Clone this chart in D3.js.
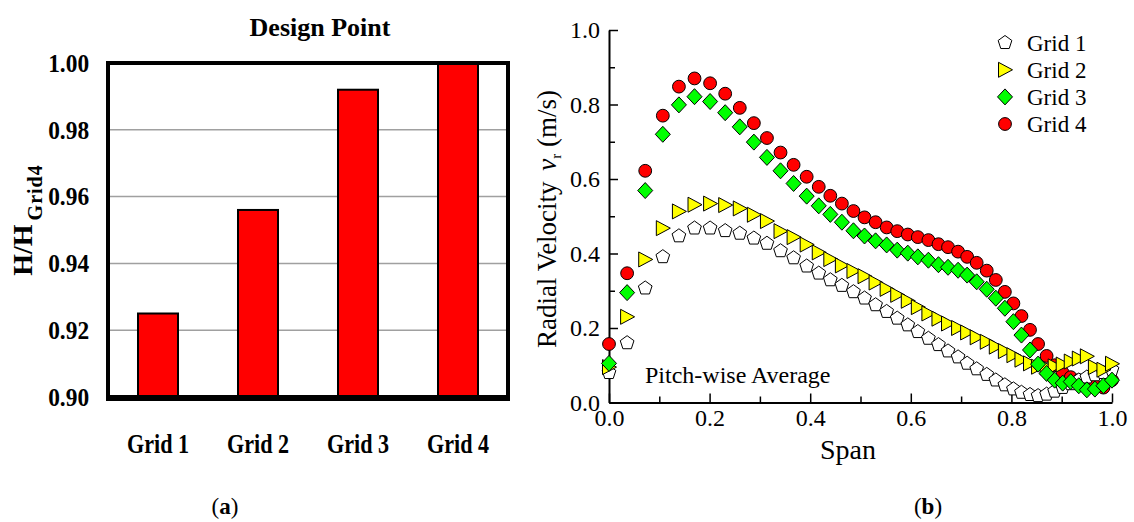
<!DOCTYPE html>
<html><head><meta charset="utf-8">
<script src="https://cdn.jsdelivr.net/npm/d3@7"></script>
<style>body{margin:0;background:#fff;} svg{display:block;}</style>
</head><body>
<svg id="c" width="1134" height="522"></svg>
<script>
// ---------- data (a) ----------
const barCategories = ["Grid 1", "Grid 2", "Grid 3", "Grid 4"];
const barValues = [0.925, 0.956, 0.992, 1.000];
const barTicks = [0.90, 0.92, 0.94, 0.96, 0.98, 1.00];

// ---------- data (b) ----------
const span = [0, 0.036, 0.072, 0.107, 0.139, 0.170, 0.201, 0.231, 0.260, 0.288, 0.314, 0.341, 0.367, 0.393, 0.417, 0.440, 0.463, 0.486, 0.508, 0.530, 0.552, 0.573, 0.594, 0.614, 0.635, 0.655, 0.674, 0.694, 0.712, 0.731, 0.751, 0.769, 0.787, 0.804, 0.820, 0.837, 0.853, 0.870, 0.886, 0.902, 0.918, 0.934, 0.950, 0.966, 0.983, 1.000];
const grid1 = [0.080, 0.160, 0.307, 0.391, 0.447, 0.468, 0.468, 0.461, 0.454, 0.441, 0.427, 0.407, 0.388, 0.366, 0.347, 0.329, 0.314, 0.297, 0.280, 0.262, 0.244, 0.226, 0.208, 0.190, 0.172, 0.155, 0.138, 0.122, 0.105, 0.090, 0.075, 0.060, 0.047, 0.036, 0.027, 0.021, 0.018, 0.022, 0.030, 0.040, 0.050, 0.060, 0.068, 0.074, 0.080, 0.088];
const grid2 = [0.095, 0.230, 0.384, 0.468, 0.513, 0.531, 0.534, 0.530, 0.521, 0.504, 0.487, 0.460, 0.444, 0.424, 0.403, 0.385, 0.368, 0.353, 0.339, 0.322, 0.305, 0.289, 0.273, 0.256, 0.239, 0.225, 0.212, 0.200, 0.188, 0.175, 0.163, 0.150, 0.138, 0.127, 0.115, 0.105, 0.096, 0.094, 0.097, 0.102, 0.110, 0.118, 0.124, 0.095, 0.088, 0.104];
const grid3 = [0.105, 0.295, 0.569, 0.720, 0.799, 0.821, 0.808, 0.778, 0.740, 0.699, 0.658, 0.622, 0.588, 0.554, 0.528, 0.505, 0.484, 0.461, 0.447, 0.434, 0.423, 0.409, 0.401, 0.391, 0.382, 0.370, 0.363, 0.355, 0.342, 0.324, 0.304, 0.280, 0.253, 0.217, 0.181, 0.141, 0.103, 0.078, 0.060, 0.052, 0.056, 0.045, 0.034, 0.036, 0.045, 0.060];
const grid4 = [0.157, 0.347, 0.622, 0.770, 0.848, 0.870, 0.857, 0.829, 0.791, 0.750, 0.710, 0.671, 0.638, 0.606, 0.579, 0.555, 0.534, 0.514, 0.497, 0.484, 0.470, 0.460, 0.451, 0.444, 0.436, 0.425, 0.417, 0.405, 0.391, 0.375, 0.354, 0.329, 0.297, 0.266, 0.232, 0.195, 0.157, 0.125, 0.100, 0.080, 0.068, 0.060, 0.052, 0.045, 0.040, 0.060];
const seriesNames = ["Grid 1", "Grid 2", "Grid 3", "Grid 4"];
const spanTicks = [0, 0.2, 0.4, 0.6, 0.8, 1.0];
const spanMinor = [0.1, 0.3, 0.5, 0.7, 0.9];
const velTicks = [0, 0.2, 0.4, 0.6, 0.8, 1.0];
const velMinor = [0.1, 0.3, 0.5, 0.7, 0.9];

const svg = d3.select("#c");
const SERIF = "'Liberation Serif','Times New Roman',serif";

// ================= chart (a) =================
const A = {l: 108, r: 508, t: 63, b: 397};
const xa = d3.scaleBand().domain(barCategories).range([A.l, A.r]).paddingInner(0.6).paddingOuter(0.3);
const ya = d3.scaleLinear().domain([0.90, 1.00]).range([A.b, A.t]);
const ga = svg.append("g");

// gridlines
ga.append("g").selectAll("line").data(barTicks.slice(1, -1)).join("line")
  .attr("x1", A.l).attr("x2", A.r).attr("y1", d => ya(d)).attr("y2", d => ya(d))
  .attr("stroke", "#a0a0a0").attr("stroke-width", 1.5);

// bars
ga.append("g").selectAll("rect").data(barValues).join("rect")
  .attr("x", (d, i) => xa(barCategories[i]))
  .attr("y", d => ya(d))
  .attr("width", xa.bandwidth())
  .attr("height", d => ya(0.90) - ya(d))
  .attr("fill", "#ff0000").attr("stroke", "#000").attr("stroke-width", 2);

// frame
ga.append("rect").attr("x", A.l).attr("y", A.t).attr("width", A.r - A.l).attr("height", A.b - A.t)
  .attr("fill", "none").attr("stroke", "#000").attr("stroke-width", 4);
ga.append("line").attr("x1", A.l - 2).attr("x2", A.r + 2).attr("y1", A.b + 1).attr("y2", A.b + 1)
  .attr("stroke", "#000").attr("stroke-width", 6);

// y axis labels
const yAxA = ga.append("g").attr("transform", `translate(${A.l},0)`)
  .call(d3.axisLeft(ya).tickValues(barTicks).tickFormat(d3.format(".2f")).tickSize(0).tickPadding(19));
yAxA.select(".domain").remove();
yAxA.selectAll("text").attr("font-family", SERIF).attr("font-weight", "bold").attr("font-size", 26)
  .attr("fill", "#000").attr("transform", "scale(0.9,1)").attr("x", -21);

// x axis labels
const xAxA = ga.append("g").attr("transform", `translate(0,${A.b})`)
  .call(d3.axisBottom(xa).tickSize(0).tickPadding(37));
xAxA.select(".domain").remove();
xAxA.selectAll("text").attr("font-family", SERIF).attr("font-weight", "bold").attr("font-size", 27)
  .attr("fill", "#000").attr("transform", "scale(0.82,1)");

// title
ga.append("text").attr("x", 320).attr("y", 36).attr("text-anchor", "middle")
  .attr("font-family", SERIF).attr("font-weight", "bold").attr("font-size", 26).text("Design Point");

// y label
const ylA = ga.append("text").attr("transform", "translate(32,220) rotate(-90)").attr("text-anchor", "middle")
  .attr("font-family", SERIF).attr("font-weight", "bold");
ylA.append("tspan").attr("font-size", 28).text("H/H");
ylA.append("tspan").attr("font-size", 20).attr("dy", 10).attr("dx", 4).attr("letter-spacing", 1).text("Grid4");

// (a)
const capA = svg.append("text").attr("x", 225).attr("y", 514).attr("text-anchor", "middle")
  .attr("font-family", SERIF).attr("font-size", 23);
capA.append("tspan").text("(");
capA.append("tspan").attr("font-weight", "bold").text("a");
capA.append("tspan").text(")");

// ================= chart (b) =================
const B = {l: 609, r: 1112, t: 30, b: 402.5};
const xb = d3.scaleLinear().domain([0, 1]).range([B.l, B.r]);
const yb = d3.scaleLinear().domain([0, 1]).range([B.b, B.t]);
const gb = svg.append("g");

function styleAxis(g) {
  g.select(".domain").attr("stroke-width", 2);
  g.selectAll(".tick line").attr("stroke-width", 1.5);
  g.selectAll("text").attr("font-family", SERIF).attr("font-size", 24).attr("fill", "#000");
}
const xMinor = gb.append("g").attr("transform", `translate(0,${B.b})`)
  .call(d3.axisBottom(xb).tickValues(spanMinor).tickSize(-6).tickSizeOuter(0).tickFormat(""));
xMinor.select(".domain").remove();
xMinor.selectAll(".tick line").attr("stroke-width", 1.5);
const yMinor = gb.append("g").attr("transform", `translate(${B.l},0)`)
  .call(d3.axisLeft(yb).tickValues(velMinor).tickSize(-6).tickSizeOuter(0).tickFormat(""));
yMinor.select(".domain").remove();
yMinor.selectAll(".tick line").attr("stroke-width", 1.5);

const xAxB = gb.append("g").attr("transform", `translate(0,${B.b})`)
  .call(d3.axisBottom(xb).tickValues(spanTicks).tickFormat(d3.format(".1f")).tickSize(-9).tickSizeOuter(0).tickPadding(6));
styleAxis(xAxB);
const yAxB = gb.append("g").attr("transform", `translate(${B.l},0)`)
  .call(d3.axisLeft(yb).tickValues(velTicks).tickFormat(d3.format(".1f")).tickSize(-9).tickSizeOuter(0).tickPadding(9));
styleAxis(yAxB);

// marker shapes
function pentagon(r) {
  const pts = d3.range(5).map(k => { const a = -Math.PI / 2 + k * 2 * Math.PI / 5; return [r * Math.cos(a), r * Math.sin(a)]; });
  return "M" + pts.map(p => p.join(",")).join("L") + "Z";
}
const shapes = {
  "Grid 1": {d: pentagon(7.2), fill: "#ffffff"},
  "Grid 2": {d: "M-6.5,-7.5L7.5,0L-6.5,7.5Z", fill: "#ffff00"},
  "Grid 3": {d: "M0,-8L7.5,0L0,8L-7.5,0Z", fill: "#00ff00"},
  "Grid 4": {d: d3.symbol(d3.symbolCircle, Math.PI * 6.4 * 6.4)(), fill: "#ff0000"}
};
const seriesData = {"Grid 1": grid1, "Grid 2": grid2, "Grid 3": grid3, "Grid 4": grid4};
const drawOrder = ["Grid 4", "Grid 1", "Grid 2", "Grid 3"];

const pts = gb.append("g");
drawOrder.forEach(name => {
  const vals = seriesData[name];
  pts.append("g").selectAll("path").data(vals).join("path")
    .attr("transform", (d, i) => `translate(${xb(span[i])},${yb(d)})`)
    .attr("d", shapes[name].d)
    .attr("fill", shapes[name].fill).attr("stroke", "#000").attr("stroke-width", 1);
});

// legend
const leg = gb.append("g");
seriesNames.forEach((name, i) => {
  const y = 42.7 + i * 27.1;
  leg.append("path").attr("transform", `translate(1005,${y})`).attr("d", shapes[name].d)
    .attr("fill", shapes[name].fill).attr("stroke", "#000").attr("stroke-width", 1);
  leg.append("text").attr("x", 1027).attr("y", y).attr("dy", "0.35em")
    .attr("font-family", SERIF).attr("font-size", 23).text(name);
});

// annotation
gb.append("text").attr("x", 645).attr("y", 383).attr("font-family", SERIF).attr("font-size", 24).text("Pitch-wise Average");

// axis titles
gb.append("text").attr("x", 848).attr("y", 459).attr("text-anchor", "middle")
  .attr("font-family", SERIF).attr("font-size", 28).text("Span");
const ylB = gb.append("text").attr("transform", "translate(556,219) rotate(-90)").attr("text-anchor", "middle")
  .attr("font-family", SERIF).attr("font-size", 27);
ylB.append("tspan").text("Radial Velocity ");
ylB.append("tspan").attr("font-style", "italic").attr("dx", 4).text("v");
ylB.append("tspan").attr("font-size", 15).attr("dy", 5).text("r");
ylB.append("tspan").attr("dy", -5).text(" (m/s)");

// (b)
const capB = svg.append("text").attr("x", 928).attr("y", 514).attr("text-anchor", "middle")
  .attr("font-family", SERIF).attr("font-size", 23);
capB.append("tspan").text("(");
capB.append("tspan").attr("font-weight", "bold").text("b");
capB.append("tspan").text(")");
</script>
</body></html>
